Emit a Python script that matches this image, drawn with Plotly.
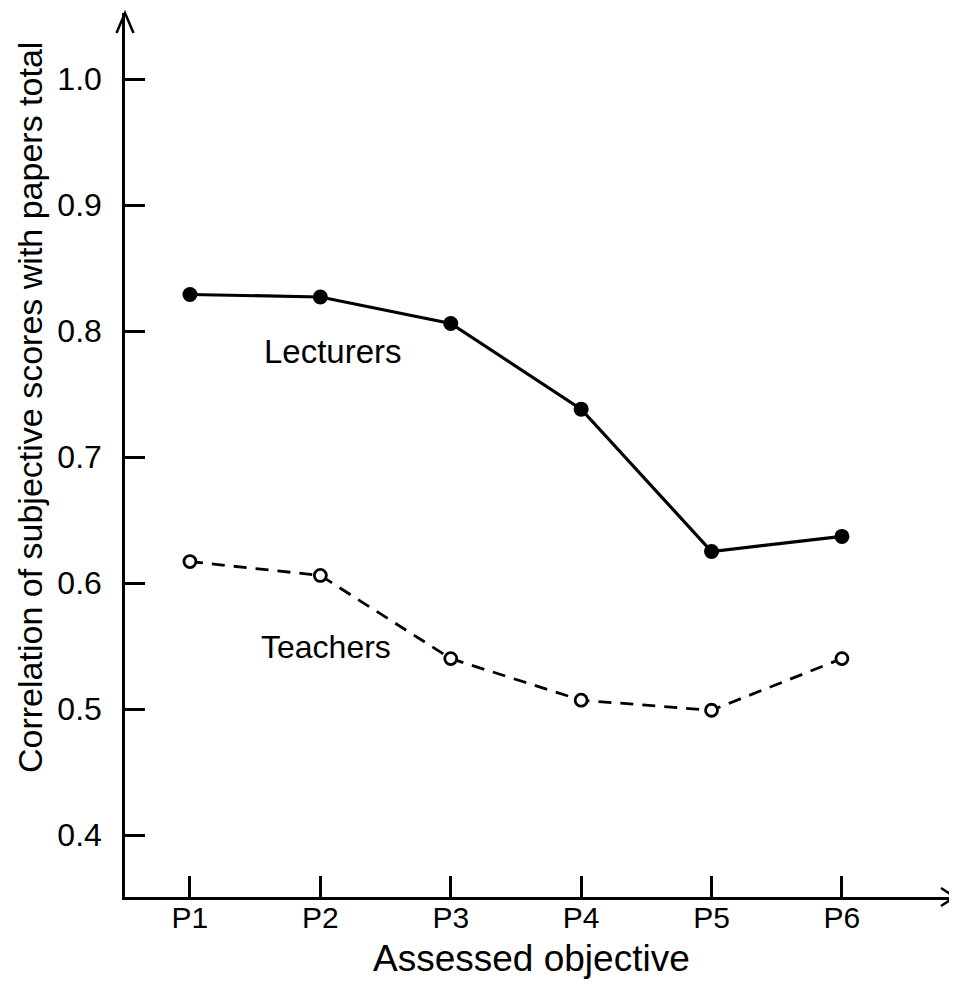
import plotly.graph_objects as go

categories = ["P1", "P2", "P3", "P4", "P5", "P6"]
x_pos = [1, 2, 3, 4, 5, 6]
lecturers = [0.829, 0.827, 0.806, 0.738, 0.625, 0.637]
teachers = [0.617, 0.606, 0.540, 0.507, 0.499, 0.540]
y_ticks = [0.4, 0.5, 0.6, 0.7, 0.8, 0.9, 1.0]
y_tick_labels = ["0.4", "0.5", "0.6", "0.7", "0.8", "0.9", "1.0"]

fig = go.Figure()
fig.add_trace(go.Scatter(
    x=x_pos, y=lecturers, mode="lines+markers", name="Lecturers",
    line=dict(color="black", width=3.2),
    marker=dict(symbol="circle", size=15, color="black"),
))
fig.add_trace(go.Scatter(
    x=x_pos, y=teachers, mode="lines+markers", name="Teachers",
    line=dict(color="black", width=2.8, dash="13px,9px"),
    marker=dict(symbol="circle", size=12, color="white",
                line=dict(color="black", width=2.8)),
))

tick_font = dict(family="Liberation Sans, Arial", size=32, color="black")

fig.update_layout(
    width=949, height=980,
    margin=dict(l=117, r=2, t=5, b=91),
    paper_bgcolor="white", plot_bgcolor="white",
    showlegend=False,
    xaxis=dict(
        range=[0.502, 6.867], showgrid=False, zeroline=False,
        showline=True, linecolor="black", linewidth=2.5,
        tickmode="array", tickvals=x_pos, ticktext=categories,
        ticks="inside", ticklen=21, tickwidth=2.5, tickcolor="black",
        tickfont=dict(family="Liberation Sans, Arial", size=30, color="black"),
        ticklabelstandoff=-8,
    ),
    yaxis=dict(
        range=[0.3508, 1.0524], showgrid=False, zeroline=False,
        showline=True, linecolor="black", linewidth=2.5,
        tickmode="array", tickvals=y_ticks, ticktext=y_tick_labels,
        ticks="inside", ticklen=20, tickwidth=2.5, tickcolor="black",
        tickfont=tick_font, ticklabelstandoff=14,
    ),
    font=dict(family="Liberation Sans, Arial", color="black"),
)

# arrow heads on axes
fig.add_shape(type="path", xref="paper", yref="paper",
              xsizemode="pixel", ysizemode="pixel", xanchor=0, yanchor=1,
              path="M -8.5,-20 L 0,0 L 8.5,-20",
              line=dict(color="black", width=2.5))
fig.add_shape(type="path", xref="paper", yref="paper",
              xsizemode="pixel", ysizemode="pixel", xanchor=1, yanchor=0,
              path="M -14,9 L 0,0 L -14,-9",
              line=dict(color="black", width=2.5))

fig.add_annotation(text="Lecturers", x=2.1, y=0.784, xref="x", yref="y",
                   showarrow=False, xanchor="center", yanchor="middle",
                   font=dict(family="Liberation Sans, Arial", size=33, color="black"))
fig.add_annotation(text="Teachers", x=2.04, y=0.549, xref="x", yref="y",
                   showarrow=False, xanchor="center", yanchor="middle",
                   font=dict(family="Liberation Sans, Arial", size=32, color="black"))

fig.add_annotation(text="Correlation of subjective scores with papers total",
                   xref="paper", yref="paper", x=-95/830, y=(897-408)/884,
                   textangle=-90, showarrow=False, xanchor="center", yanchor="middle",
                   font=dict(family="Liberation Sans, Arial", size=34, color="black"))
fig.add_annotation(text="Assessed objective",
                   xref="paper", yref="paper", x=(531-125)/830, y=-(958-897)/884,
                   showarrow=False, xanchor="center", yanchor="middle",
                   font=dict(family="Liberation Sans, Arial", size=37, color="black"))

fig.write_html("out.html")
